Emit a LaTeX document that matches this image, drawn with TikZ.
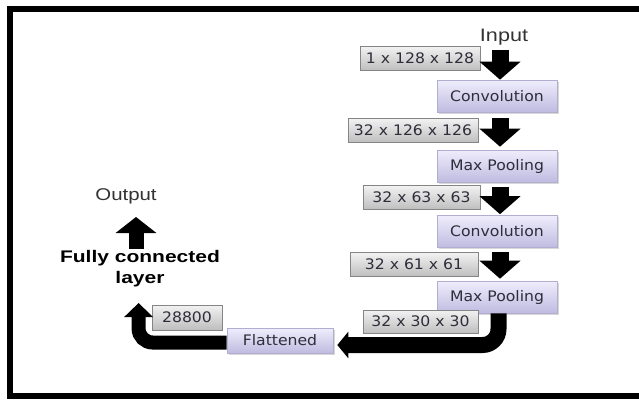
\documentclass[tikz,border=0pt]{standalone}
\usepackage{fontspec}
\setmainfont{Liberation Sans}
\newfontfamily\boxfont{DejaVu Sans}
\usetikzlibrary{arrows.meta,shadows}
\definecolor{grayT}{HTML}{F2F2F2}
\definecolor{grayB}{HTML}{BEBEBE}
\definecolor{grayE}{HTML}{858585}
\definecolor{purT}{HTML}{EFEDFC}
\definecolor{purB}{HTML}{BFBBE0}
\definecolor{purE}{HTML}{B2AED2}
\definecolor{txt}{HTML}{2E2E3A}
\newcommand{\sx}[1]{\scalebox{1.08}[1]{#1}}
\tikzset{
  dimbox/.style={draw=grayE, line width=0.8pt, top color=grayT, bottom color=grayB,
    text=txt, font=\boxfont\fontsize{14.5}{17}\selectfont, inner sep=0pt, minimum height=24pt},
  layerbox/.style={draw=purE, line width=0.6pt, top color=purT, bottom color=purB,
    text=txt, font=\boxfont\fontsize{14.5}{17}\selectfont, inner sep=0pt,
    minimum width=120pt, minimum height=32pt,
    drop shadow={shadow xshift=1.5pt,shadow yshift=-1.5pt,opacity=0.3}},
  plain/.style={text=black!80, inner sep=0pt, anchor=base},
  downarrow/.style={line width=17pt, -{Triangle[width=40pt,length=18pt]}},
  bigarrow/.style={line width=16pt, rounded corners=16pt, -{Triangle[width=26pt,length=11pt]}},
  leftarrow/.style={line width=14pt, rounded corners=14pt, -{Triangle[width=28pt,length=14pt]}},
  uparrow/.style={line width=15pt, -{Triangle[width=40pt,length=16pt]}},
}
\begin{document}
\begin{tikzpicture}[x=1pt,y=-1pt]
\useasboundingbox (0,0) rectangle (639,399);
\fill[white] (0,0) rectangle (639,399);
% frame
\fill[black] (7,6) rectangle (13,399);
\fill[black] (7,6) rectangle (639,12);
\fill[black] (7,393) rectangle (639,399);

% texts
\node[plain, font=\fontsize{18}{21}\selectfont] (input) at (504,41) {\scalebox{1.2}[1]{Input}};
\node[plain, font=\fontsize{17}{20}\selectfont] (output) at (126,200) {\scalebox{1.2}[1]{Output}};
\node[plain, text=black, font=\bfseries\fontsize{16.8}{21}\selectfont] (fc) at (140,262)
  {\scalebox{1.25}[1]{\begin{tabular}[t]{@{}c@{}}Fully connected\\layer\end{tabular}}};

% boxes
\node[dimbox, minimum width=120pt] (d1) at (420,58.5) {\sx{1 x 128 x 128}};
\node[layerbox] (conv1) at (497,96) {\sx{Convolution}};
\node[dimbox, minimum width=130pt] (d2) at (413,130.5) {\sx{32 x 126 x 126}};
\node[layerbox] (mp1) at (497,166) {\sx{Max Pooling}};
\node[dimbox, minimum width=117pt] (d3) at (421.5,197.5) {\sx{32 x 63 x 63}};
\node[layerbox] (conv2) at (497,231.5) {\sx{Convolution}};
\node[dimbox, minimum width=128pt] (d4) at (414,264.5) {\sx{32 x 61 x 61}};
\node[layerbox] (mp2) at (497,297) {\sx{Max Pooling}};
\node[dimbox, minimum width=115pt, minimum height=23pt] (d5) at (420.5,321.5) {\sx{32 x 30 x 30}};
\node[layerbox, minimum width=106pt, minimum height=25pt] (flat) at (280,340.5) {\sx{Flattened}};
\node[dimbox, minimum width=70pt, minimum height=25pt] (d6) at (187,317.5) {\sx{28800}};

\coordinate (outtip) at (136,217);

% arrows
\draw[downarrow, shorten <=5pt] ([xshift=-4pt]input.south) -- ([xshift=3pt]conv1.north);
\draw[downarrow, shorten <=6pt, shorten >=3pt] ([xshift=3pt]conv1.south) -- ([xshift=3pt]mp1.north);
\draw[downarrow, shorten <=5pt, shorten >=1pt] ([xshift=3pt]mp1.south) -- ([xshift=3pt]conv2.north);
\draw[downarrow, shorten <=4pt, shorten >=2pt] ([xshift=3pt]conv2.south) -- ([xshift=3pt]mp2.north);
\draw[bigarrow] ([xshift=1.5pt]mp2.south) |- ([xshift=4pt,yshift=-4.5pt]flat.east);
\draw[leftarrow] ([yshift=-2pt]flat.west) -| ([xshift=-13pt,yshift=14.5pt]d6.west);
\draw[uparrow, shorten <=-2pt] ([xshift=-4pt]fc.north) -- (outtip);
\end{tikzpicture}
\end{document}
